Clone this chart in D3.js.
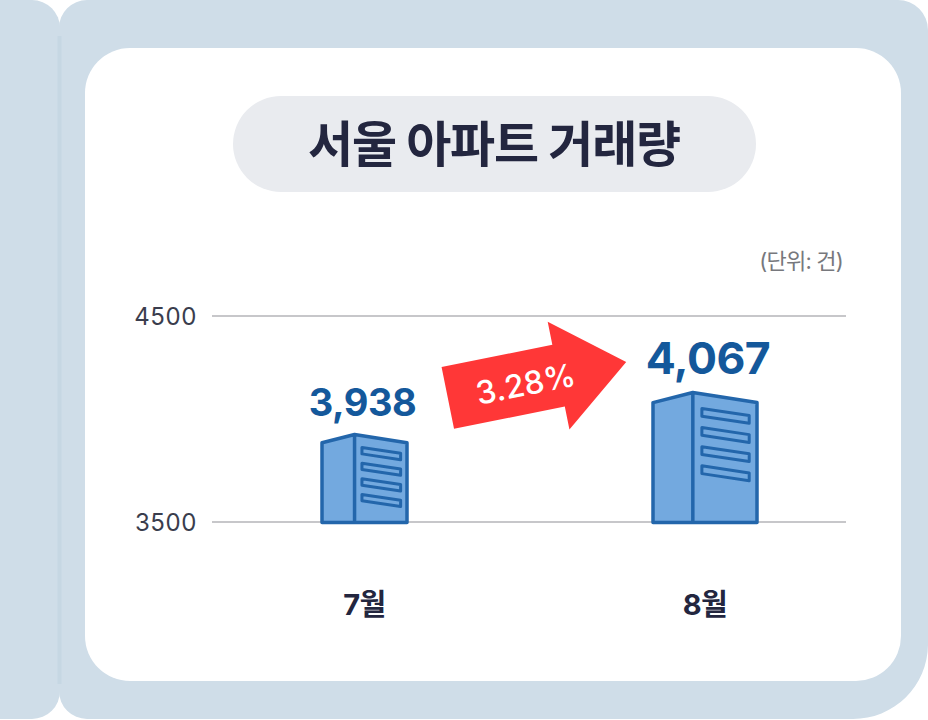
<!DOCTYPE HTML>
<html>
<head>
<meta charset="utf-8">
<title>서울 아파트 거래량</title>
<style>
html, body { margin: 0; padding: 0; background: #fff; }
svg { display: block; }
text { font-family: Inter, "Noto Sans CJK KR", sans-serif; }
.grid { stroke: #b4b4b8; stroke-width: 1.3px; }
.tick-label { font-size: 24px; fill: #3a3d4d; letter-spacing: 0.6px; }
.month-label { font-size: 29px; font-weight: 700; fill: #23263f; letter-spacing: -0.5px; }
.value { font-weight: 700; fill: #14589b; }
.building path { fill: #73a9df; stroke: #2366ab; stroke-width: 3.5px; stroke-linejoin: round; }
</style>
</head>
<body>
<script src="https://cdnjs.cloudflare.com/ajax/libs/d3/7.8.5/d3.min.js"></script>
<script>
var title = "서울 아파트 거래량";
var unit = "(단위: 건)";
var months = ["7월", "8월"];
var values = [3938, 4067];
var axisTicks = [3500, 4500];
var change = "3.28%";

var width = 928, height = 720;

var svg = d3.select("body").append("svg")
    .attr("width", width)
    .attr("height", height);

// background panels
var panel = "#cfdde8";
svg.append("rect").attr("x", -40).attr("y", 0).attr("width", 100).attr("height", 719)
    .attr("rx", 28).attr("fill", panel);
svg.append("path").attr("fill", panel)
    .attr("d", "M59,28A28,28 0 0 1 87,0H898A30,30 0 0 1 928,30V645A75,75 0 0 1 853,719H87A28,28 0 0 1 59,691Z");
svg.append("rect").attr("x", 57.5).attr("y", 36).attr("width", 4).attr("height", 648)
    .attr("fill", "#c6d7e3");
svg.append("rect").attr("x", 85).attr("y", 48).attr("width", 816).attr("height", 633)
    .attr("rx", 45).attr("fill", "#fff");

// title pill
svg.append("rect").attr("x", 233).attr("y", 96).attr("width", 523).attr("height", 96)
    .attr("rx", 48).attr("fill", "#e9ebef");
svg.append("text").attr("x", 494).attr("y", 162)
    .attr("text-anchor", "middle")
    .attr("font-size", 49).attr("font-weight", 700).attr("fill", "#23263f")
    .style("letter-spacing", "-1.2px")
    .text(title);

svg.append("text").attr("x", 843).attr("y", 269)
    .attr("text-anchor", "end")
    .attr("font-size", 22).attr("fill", "#77787d")
    .style("letter-spacing", "-0.8px")
    .text(unit);

// scales
var y = d3.scaleLinear().domain(axisTicks).range([522, 316]);
var x = d3.scalePoint().domain(months).range([364.5, 705]);

// the buildings are pictograms: their size is exaggerated against the axis
var buildingHeight = d3.scaleLinear().domain(values).range([88, 130]);
var buildingWidth = d3.scaleLinear().domain(values).range([85, 104]);

// gridlines
svg.selectAll(".grid").data(axisTicks).enter().append("line")
    .attr("class", "grid")
    .attr("x1", 212).attr("x2", 846)
    .attr("y1", function(d) { return y(d); })
    .attr("y2", function(d) { return y(d); });

svg.selectAll(".tick-label").data(axisTicks).enter().append("text")
    .attr("class", "tick-label")
    .attr("x", 197)
    .attr("y", function(d) { return y(d) + 9; })
    .attr("text-anchor", "end")
    .text(function(d) { return d; });

function buildingPath(w, h) {
    // origin at bottom-left corner, outline and spine
    var spine = w * 0.383, roof = w * 0.097;
    var p = d3.path();
    p.moveTo(0, 0);
    p.lineTo(0, -h + roof);
    p.lineTo(spine, -h);
    p.lineTo(w, -h + roof);
    p.lineTo(w, 0);
    p.closePath();
    p.moveTo(spine, -h);
    p.lineTo(spine, 0);
    return p.toString();
}

function windowsPath(w, h) {
    var p = d3.path();
    var x0 = w * 0.47, x1 = w * 0.925, slope = w * 0.068, wh = w * 0.075;
    d3.range(4).forEach(function(i) {
        var top = -h + w * 0.153 + i * w * 0.184;
        p.moveTo(x0, top);
        p.lineTo(x1, top + slope);
        p.lineTo(x1, top + slope + wh);
        p.lineTo(x0, top + wh);
        p.closePath();
    });
    return p.toString();
}

var buildings = svg.selectAll(".building").data(values).enter().append("g")
    .attr("class", "building")
    .attr("transform", function(d, i) {
        return "translate(" + (x(months[i]) - buildingWidth(d) / 2) + "," + (y(axisTicks[0]) + 0.5) + ")";
    });

buildings.append("path")
    .attr("d", function(d) { return buildingPath(buildingWidth(d), buildingHeight(d)); });
buildings.append("path")
    .style("stroke-width", "3px")
    .attr("d", function(d) { return windowsPath(buildingWidth(d), buildingHeight(d)); });

// value labels
var valueSize = [38, 44.5];
svg.selectAll(".value").data(values).enter().append("text")
    .attr("class", "value")
    .attr("x", function(d, i) { return x(months[i]) - 2 + i * 5; })
    .attr("y", function(d) { return y(axisTicks[0]) - buildingHeight(d) - 18; })
    .attr("text-anchor", "middle")
    .attr("font-size", function(d, i) { return valueSize[i]; })
    .style("letter-spacing", "-0.5px")
    .text(d3.format(","));

// month labels
svg.selectAll(".month-label").data(months).enter().append("text")
    .attr("class", "month-label")
    .attr("x", function(d) { return x(d); })
    .attr("y", 615)
    .attr("text-anchor", "middle")
    .text(function(d) { return d; });

// change arrow, drawn along its own axis and tilted
var arrow = svg.append("g")
    .attr("transform", "translate(537,380) rotate(-11.4)");
arrow.append("path")
    .attr("fill", "#ff3737")
    .attr("d", d3.line()([[-91, -31.5], [22, -31.5], [22, -55], [91, 0], [22, 55], [22, 31.5], [-91, 31.5]]) + "Z");
arrow.append("text")
    .attr("x", -12).attr("y", 13)
    .attr("text-anchor", "middle")
    .attr("font-size", 32).attr("font-weight", 500).attr("fill", "#fff")
    .text(change);
</script>
</body>
</html>
